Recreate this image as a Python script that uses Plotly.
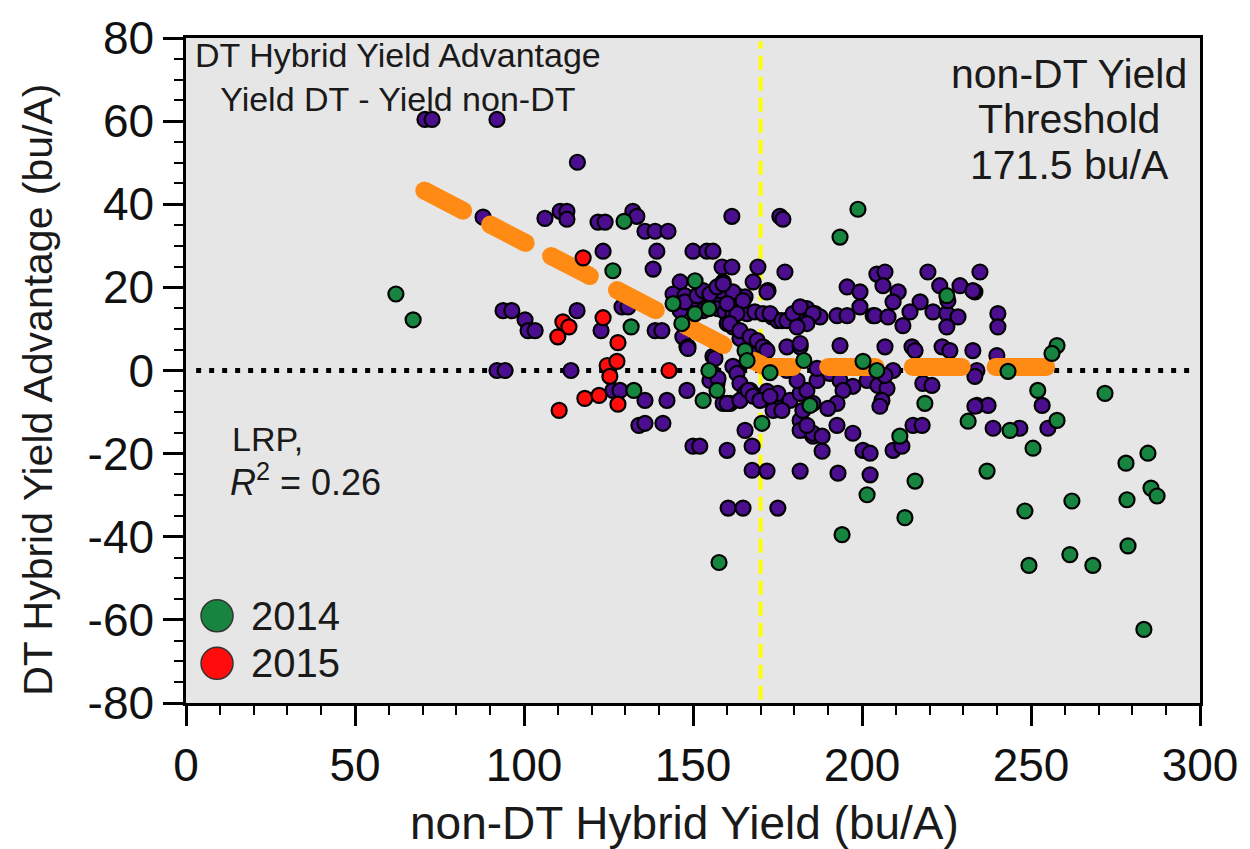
import plotly.graph_objects as go

# ---------------- data ----------------
purple_x = [70.7, 72.8, 92.0, 115.8, 87.9, 106.2, 110.7, 112.7, 112.7, 121.9, 124.0, 132.2, 133.4,
            93.8, 96.4, 100.3, 101.2, 103.3, 115.7, 123.4, 122.8, 129.0, 130.8, 92.0, 94.4, 113.9,
            126.3, 128.4, 134.0, 135.8, 138.8, 142.6, 139.3, 138.2, 150.0, 154.1, 155.9,
            161.5, 175.7, 176.6, 169.2, 177.2, 158.6, 161.5, 146.2, 144.1, 147.6, 158.9, 167.8,
            154.1, 157.1, 158.0, 163.0, 165.4, 172.2, 150.0, 153.0,
            157.4, 159.5, 161.8, 164.5, 166.0, 168.3, 170.7, 173.4, 175.1, 178.7, 181.7, 183.7, 186.1, 187.6,
            192.6, 195.6, 199.4, 203.3, 195.6, 199.4, 204.4,
            193.5, 177.8, 181.7, 167.8, 171.3, 163.9, 161.8, 160.1, 155.9, 148.2,
            135.8, 142.3, 148.2, 155.9, 157.1, 161.8, 163.0, 163.9,
            158.9, 161.0, 165.4, 166.9, 168.3, 171.9, 174.3, 175.1, 178.7, 181.7, 183.7,
            177.8, 180.8, 186.7, 135.8, 141.1, 150.0, 152.0, 160.1, 165.4, 167.5,
            173.7, 176.3, 181.7, 183.7, 185.5,
            206.8, 206.2, 210.7, 209.2, 219.5, 223.0, 229.0, 233.4, 234.9,
            217.2, 221.0, 225.1, 228.4, 225.1, 214.2, 212.1, 240.2, 240.2, 203.8, 207.7,
            206.8, 214.8, 223.7, 232.8, 239.9, 215.7, 226.0,
            186.7, 190.5, 193.5, 197.3, 201.5, 204.7, 207.4, 209.2, 206.8, 234.0, 233.4,
            194.4, 192.6, 189.9, 205.9, 205.3, 218.0, 220.7,
            234.0, 237.3, 215.1, 217.8, 238.8, 246.7, 255.0,
            181.7, 185.5, 188.2, 192.6, 197.3, 183.7, 188.2, 200.3, 202.4, 209.2, 211.8,
            181.7, 192.9, 202.4, 167.5, 171.9, 160.4, 164.8, 175.1, 233.4, 253.3,
            225.4, 232.8, 138.8, 140.8, 147.0, 148.5, 156.5, 155.0, 157.4, 160.1, 163.9,
            161.8, 164.8, 163.0, 160.1, 160.9, 163.9, 166.9, 169.0,
            171.9, 172.8, 176.3, 177.8, 179.6, 181.7, 185.5, 183.7, 180.8,
            170.7, 171.9, 181.7, 166.3, 167.8, 169.8, 172.8, 182.5, 185.5,
            146.2, 147.6, 151.2, 153.0, 155.0, 157.1, 158.9, 148.5]
purple_y = [60.4, 60.4, 60.4, 50.1, 36.9, 36.6, 38.3, 38.3, 36.4, 35.7, 35.7, 38.3, 37.1,
            14.4, 14.4, 12.2, 9.6, 9.6, 14.4, 28.7, 9.6, 15.3, 15.3, 0.0, 0.0, 0.0,
            -4.8, -4.8, -13.2, 33.5, 33.5, 33.5, 28.7, 24.4, 28.7, 28.7, 28.7,
            37.1, 37.1, 36.4, 24.9, 23.7, 24.9, 24.9, 21.3, 18.4, 18.0, 21.3, 21.3,
            18.4, 18.0, 19.2, 18.0, 17.7, 19.2, 15.3, 14.4,
            14.9, 14.1, 13.7, 14.9, 13.7, 14.1, 13.7, 12.9, 12.0, 12.5, 12.9, 14.9, 13.7, 12.9,
            13.2, 13.2, 15.3, 13.2, 20.1, 18.9, 23.2,
            6.0, 5.7, 5.7, 5.3, 5.3, 7.7, 10.5, 11.3, 3.4, 5.7,
            -7.2, -7.2, -4.8, -0.7, -3.1, 1.0, -0.7, -3.1,
            -7.9, -7.9, -5.5, -4.8, -6.0, -5.0, -7.2, -5.5, -7.2, -5.5, -4.8,
            0.0, -2.4, -2.4, -12.7, -12.7, -18.2, -18.2, -19.2, -14.4, -18.2,
            -9.6, -9.6, -12.0, -14.4, -15.8,
            23.7, 20.4, 18.9, 16.5, 23.7, 20.4, 20.4, 18.9, 23.7,
            16.5, 14.1, 13.7, 12.9, 10.5, 14.1, 10.8, 13.7, 10.5, 13.2, 12.9,
            5.7, 5.7, 5.7, 4.8, 3.6, 4.8, 4.8,
            0.5, -0.7, -2.4, -3.8, -2.4, -3.6, -4.3, 0.0, -1.2, 0.0, -1.4,
            -4.8, -7.9, -9.1, -7.2, -8.6, -3.1, -3.6,
            -8.4, -8.4, -13.2, -13.2, -13.9, -13.9, -13.9,
            -14.4, -15.1, -15.8, -13.2, -15.1, -13.2, -19.4, -19.2, -19.9, -19.2, -18.2,
            -24.2, -24.7, -25.1, -24.0, -24.2, -33.1, -33.1, -33.1, -8.6, -8.4,
            16.8, 19.2, 9.6, 9.6, 8.1, 5.7, 2.9, -2.4, -1.9, -7.9, -7.2,
            18.9, 16.8, 13.7, 16.1, 11.3, 9.6, 8.1, 7.2,
            18.9, 13.7, 12.0, 12.0, 13.7, 15.3, 13.7, 11.3, 10.5,
            5.7, 4.8, 6.5, -4.8, -6.2, -7.2, -6.2, -9.6, -7.9,
            14.4, 16.5, 18.0, 19.2, 18.4, 20.1, 20.8, 5.3]

green_x = [62.1, 67.2, 129.6, 126.3, 131.7, 132.5, 144.1, 146.7, 150.6, 150.6, 154.7,
           154.7, 157.1, 153.0, 165.4, 166.0, 172.8, 182.8, 184.6, 170.4,
           198.8, 193.5, 200.3, 204.4, 225.1, 243.2, 218.6, 231.4, 243.8, 211.2, 250.6, 237.0,
           215.7, 252.0, 257.7, 256.2, 271.9, 257.7, 284.6, 278.1, 285.5, 287.3, 278.4, 262.1,
           248.2, 278.7, 261.5, 249.4, 268.3, 283.4, 201.5, 212.7, 194.1, 157.7]
green_y = [18.4, 12.2, 35.9, 24.0, 10.5, -4.8, 16.1, 11.3, 21.6, 13.7, 14.9,
           0.0, -4.8, -7.2, 4.8, 2.4, -0.5, 2.4, -8.4, -12.7,
           38.8, 32.1, 2.2, 0.0, 18.0, -0.2, -7.9, -12.2, -14.4, -15.8, -18.7, -24.2,
           -26.6, -4.8, 6.0, 4.1, -5.5, -12.0, -19.9, -22.3, -28.3, -30.2, -31.1, -31.4,
           -33.8, -42.2, -44.3, -46.9, -46.9, -62.3, -29.9, -35.4, -39.5, -46.2]

red_x = [117.5, 123.4, 111.5, 113.3, 110.0, 127.8, 124.6, 127.5, 125.4, 118.0, 122.2, 127.8, 110.4, 142.9]
red_y = [27.1, 12.7, 11.7, 10.5, 8.1, 6.7, 1.2, 2.2, -1.4, -6.7, -6.0, -8.1, -9.6, 0.0]

# linear-plateau (LRP) fit
lrp_x0, lrp_y0 = 70.0, 43.5      # start of the sloped part
lrp_slope = -0.42                # bu/A per bu/A
lrp_join = 171.5                 # threshold
lrp_segments = [(70.5, 82.0), (90.0, 100.5), (108.0, 119.5), (127.5, 139.0), (148.0, 159.0),
                (168.0, 179.5), (190.0, 204.0), (215.0, 229.5), (239.5, 254.5)]
threshold_line_x = 170.0

x_tickvals = [0, 50, 100, 150, 200, 250, 300]
x_ticktext = ["0", "50", "100", "150", "200", "250", "300"]
y_tickvals = [-80, -60, -40, -20, 0, 20, 40, 60, 80]
y_ticktext = ["-80", "-60", "-40", "-20", "0", "20", "40", "60", "80"]

legend_labels = ["2014", "2015"]

# ---------------- styling ----------------
PURPLE = "#4a0e8f"
GREEN = "#17853f"
RED = "#ff0d0d"
ORANGE = "#ff8a14"
FONT = "Arial, Liberation Sans, sans-serif"
TXT = "#1a1a1a"

T_MARGIN, B_MARGIN = 32, 146
PLOT_H = 849 - T_MARGIN - B_MARGIN


def py(pixel_y):
    """pixel row (from top of page) -> paper y coordinate"""
    return (849 - B_MARGIN - pixel_y) / PLOT_H


def lrp(x):
    x_eff = min(x, lrp_join)
    return lrp_y0 + lrp_slope * (x_eff - lrp_x0)


lx, ly = [], []
for a, b in lrp_segments:
    xs = [a, b] if not (a < lrp_join < b) else [a, lrp_join, b]
    lx += xs + [None]
    ly += [lrp(v) for v in xs] + [None]

marker_line = dict(color="black", width=2.2)
fig = go.Figure()
fig.add_trace(go.Scatter(x=purple_x, y=purple_y, mode="markers",
                         marker=dict(size=15, color=PURPLE, line=marker_line), showlegend=False))
fig.add_trace(go.Scatter(x=lx, y=ly, mode="lines+markers",
                         line=dict(color=ORANGE, width=18),
                         marker=dict(size=18, color=ORANGE, line=dict(width=0)), showlegend=False))
fig.add_trace(go.Scatter(x=green_x, y=green_y, mode="markers",
                         marker=dict(size=15, color=GREEN, line=marker_line), showlegend=False))
fig.add_trace(go.Scatter(x=red_x, y=red_y, mode="markers",
                         marker=dict(size=15, color=RED, line=marker_line), showlegend=False))

shapes = [
    dict(type="line", xref="paper", yref="y", x0=0.01, x1=0.99, y0=0, y1=0,
         line=dict(color="black", width=5, dash="5px,8px"), layer="below"),
    dict(type="line", xref="x", yref="paper", x0=threshold_line_x, x1=threshold_line_x, y0=0.005, y1=0.995,
         line=dict(color="#ffff00", width=4, dash="14px,7px"), layer="below"),
]
# legend circles
legend_y = [py(615), py(663)]
for cy, col in zip(legend_y, [GREEN, RED]):
    shapes.append(dict(type="circle", xref="paper", yref="paper", xsizemode="pixel", ysizemode="pixel",
                       xanchor=0.0306, yanchor=cy, x0=-16, x1=16, y0=-16, y1=16,
                       fillcolor=col, line=dict(color="#333333", width=1.5)))

ann = []
ann.append(dict(text="DT Hybrid Yield Advantage<br>Yield DT - Yield non-DT", x=0.209, y=py(28),
                xref="paper", yref="paper", xanchor="center", yanchor="top", showarrow=False,
                font=dict(family=FONT, size=34, color=TXT)))
for i, t in enumerate(["non-DT Yield", "Threshold", "171.5 bu/A"]):
    ann.append(dict(text=t, x=0.871, y=py(68 + 46 * i), xref="paper", yref="paper",
                    xanchor="center", yanchor="middle", showarrow=False,
                    font=dict(family=FONT, size=41, color=TXT)))
ann.append(dict(text="LRP,", x=0.043, y=py(437), xref="paper", yref="paper",
                xanchor="left", yanchor="middle", showarrow=False,
                font=dict(family=FONT, size=34, color=TXT)))
ann.append(dict(text="<i>R</i><sup>2</sup> = 0.26", x=0.041, y=py(478), xref="paper", yref="paper",
                xanchor="left", yanchor="middle", showarrow=False,
                font=dict(family=FONT, size=36, color=TXT)))
for lab, cy in zip(legend_labels, legend_y):
    ann.append(dict(text=lab, x=0.062, y=cy, xref="paper", yref="paper", xanchor="left", yanchor="middle",
                    showarrow=False, font=dict(family=FONT, size=40, color=TXT)))
ann.append(dict(text="non-DT Hybrid Yield (bu/A)", x=0.492, y=py(824), xref="paper", yref="paper",
                xanchor="center", yanchor="middle", showarrow=False, font=dict(family=FONT, size=46, color=TXT)))
ann.append(dict(text="DT Hybrid Yield Advantage (bu/A)", x=-0.146, y=py(387), xref="paper", yref="paper",
                xanchor="center", yanchor="middle", textangle=-90, showarrow=False,
                font=dict(family=FONT, size=41, color=TXT)))

axis_common = dict(showline=True, linecolor="black", linewidth=2.5, mirror=True, ticks="outside",
                   ticklen=20, tickwidth=2.5, tickcolor="black", showgrid=False, zeroline=False,
                   tickfont=dict(family=FONT, size=46, color="#111111"))
fig.update_layout(
    width=1250, height=849,
    margin=dict(l=186, r=50, t=T_MARGIN, b=B_MARGIN),
    paper_bgcolor="white", plot_bgcolor="#e6e6e6",
    xaxis=dict(range=[0, 300], tickmode="array", tickvals=x_tickvals, ticktext=x_ticktext,
               minor=dict(dtick=10, tick0=0, ticks="outside", ticklen=9, tickwidth=2, tickcolor="black"),
               **axis_common),
    yaxis=dict(range=[-80, 80], tickmode="array", tickvals=y_tickvals, ticktext=y_ticktext,
               minor=dict(dtick=5, tick0=0, ticks="outside", ticklen=9, tickwidth=2, tickcolor="black"),
               **axis_common),
    shapes=shapes, annotations=ann, showlegend=False,
)
fig.write_html("out.html", config={"displayModeBar": False},
               post_script="document.body.style.margin='0';document.body.style.overflow='hidden';")
